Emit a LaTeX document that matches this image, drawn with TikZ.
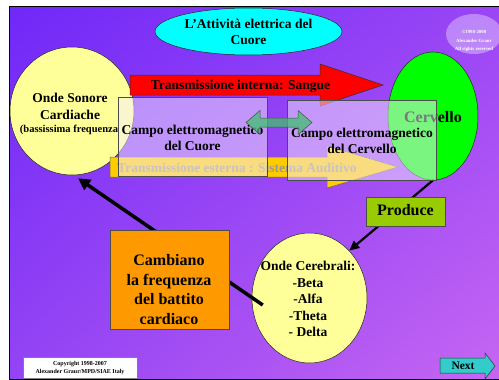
\documentclass[tikz,border=0pt]{standalone}
\usepackage{fontspec}
\setmainfont{Liberation Serif}
\usetikzlibrary{shapes.geometric,calc,arrows.meta,shadings}
\definecolor{bgTL}{HTML}{7028F8}
\definecolor{bgTR}{HTML}{9A46F6}
\definecolor{bgBL}{HTML}{9444F4}
\definecolor{bgBR}{HTML}{C666F2}
\definecolor{titlecyan}{HTML}{00FFFF}
\definecolor{softyellow}{HTML}{FFFF99}
\definecolor{brightgreen}{HTML}{00FF00}
\definecolor{glassfill}{HTML}{F4ECFF}
\definecolor{arrowgold}{HTML}{FFCC00}
\definecolor{dblgreen}{HTML}{40C070}
\definecolor{orangebox}{HTML}{FF9900}
\definecolor{producegreen}{HTML}{99CC00}
\definecolor{nextcyan}{HTML}{33CCCC}
\definecolor{fadedtext}{HTML}{A09888}
\tikzset{
  txt/.style={align=center, inner sep=0pt, font=\bfseries\fontsize{13.5}{16.5}\selectfont},
  bigtxt/.style={align=center, inner sep=0pt, font=\bfseries\fontsize{16}{19.7}\selectfont},
  ell/.style={ellipse, draw=black!85, line width=0.5pt, inner sep=0pt},
  glass/.style={draw=black!70, fill=glassfill, fill opacity=0.5, line width=0.6pt, inner sep=0pt},
  shapearrow/.style={draw=black!80, line width=0.5pt},
  flatbox/.style={draw=black!70, line width=0.6pt, inner sep=0pt}
}
\begin{document}
\begin{tikzpicture}[x=1pt,y=-1pt]
\useasboundingbox (0,0) rectangle (499,380);
% background
\shade[upper left=bgTL, upper right=bgTR, lower left=bgBL, lower right=bgBR] (9,6) rectangle (501,379);
\draw[black, line width=0.8pt] (9,6) rectangle (501,379);

% title
\node[ell, fill=titlecyan, minimum width=187, minimum height=47] (title) at (248.5,31.5) {};
\node[txt] (titletxt) at (248.5,32) {L’Attività elettrica del\\Cuore};

% copyright ellipse
\node[ellipse, inner sep=0pt, fill=white, fill opacity=0.35, minimum width=56, minimum height=40] (crell) at (474,34) {};
\node[align=center, inner sep=0pt, text=white, font=\bfseries\fontsize{4.8}{8.2}\selectfont] (crtxt) at (474,41) {©1998-2008\\Alexander Graur\\All rights reserved};

% left circle
\node[ell, fill=softyellow, minimum width=124, minimum height=128] (lc) at (72,111) {};
\node[txt] (lctxt) at (70,106.5) {Onde Sonore\\Cardiache};
\node[inner sep=0pt, font=\bfseries\fontsize{10.5}{12}\selectfont] (lcsub) at (69,130) {(bassissima frequenza};

% Cervello
\node[ell, fill=brightgreen, minimum width=90, minimum height=128] (cerv) at (433,116) {};
\node[inner sep=0pt, font=\bfseries\fontsize{16}{18}\selectfont] (cervtxt) at (433,117) {Cervello};

% red arrow
\draw[shapearrow, fill=red] (130,75) -- (320,75) -- (320,64) -- (383,85) -- (320,106) -- (320,95) -- (130,95) -- cycle;
\node[txt] (redtxt) at (240.5,86) {Transmissione interna: Sangue};

% yellow arrow
\draw[shapearrow, draw=black!60, fill=arrowgold] (110,157) -- (327,157) -- (327,146) -- (398,167) -- (327,188) -- (327,177) -- (110,177) -- cycle;
\node[txt, text=fadedtext] (yeltxt) at (237,168) {Transmissione esterna : Sistema Auditivo};

% Onde Cerebrali ellipse
\node[ell, fill=softyellow, minimum width=115, minimum height=130] (cer) at (309.5,298) {};
\node[txt] (certxt) at (308,299) {Onde Cerebrali:\\-Beta\\-Alfa\\-Theta\\- Delta};

% black connectors
\coordinate (bA) at ($(cer.west)+(11,7)$);
\draw[line width=3.5pt, -{Triangle[length=12pt,width=12pt]}] (bA) -- ($(lc.south)+(6,3)$);
\draw[line width=2.2pt, -{Triangle[length=10pt,width=9pt]}] (cerv.south) -- (cer.50);

% glass boxes
\node[glass, minimum width=149, minimum height=79] (boxL) at (192.5,136.5) {};
\node[glass, minimum width=149, minimum height=80] (boxR) at (361.5,140) {};
\node[txt] (boxLtxt) at (192.5,138) {Campo elettromagnetico\\del Cuore};
\node[txt] (boxRtxt) at (362,141) {Campo elettromagnetico\\del Cervello};

% green double arrow
\draw[draw=black!70, line width=0.5pt, fill=dblgreen, fill opacity=0.75]
  (246,122.5) -- (260,110.5) -- (260,118) -- (298,118) -- (298,110.5) -- (312,122.5)
  -- (298,134.5) -- (298,127) -- (260,127) -- (260,134.5) -- cycle;

% Cambiano box
\node[flatbox, fill=orangebox, minimum width=119, minimum height=99] (camb) at (169.5,279.5) {};
\node[bigtxt] (cambtxt) at (169,289.5) {Cambiano\\la frequenza\\del battito\\cardiaco};

% Produce box
\node[flatbox, fill=producegreen, minimum width=79, minimum height=29] (prod) at (405.5,211.5) {};
\node[bigtxt] (prodtxt) at (405.5,210.5) {Produce};

% copyright box
\node[flatbox, draw=black!50, fill=white, minimum width=114, minimum height=21] (copy) at (80,367.5) {};
\node[align=center, inner sep=0pt, font=\bfseries\fontsize{6}{8}\selectfont] (copytxt) at (80,368) {Copyright 1998-2007\\Alexander Graur/MPD/SIAE Italy};

% Next button
\draw[shapearrow, fill=nextcyan] (440,358) -- (485,358) -- (485,353) -- (495,366) -- (485,379) -- (485,373) -- (440,373) -- cycle;
\node[inner sep=0pt, font=\bfseries\fontsize{11.5}{13}\selectfont] (nexttxt) at (463,366) {Next};
\end{tikzpicture}
\end{document}
